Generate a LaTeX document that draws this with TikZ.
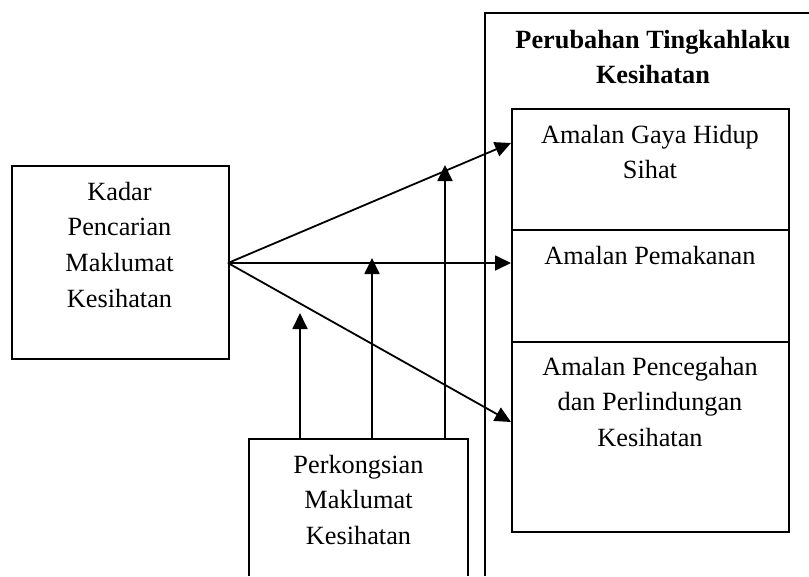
\documentclass[tikz,border=0pt]{standalone}
\usepackage{fontspec}
\setmainfont{Liberation Serif}
\usetikzlibrary{arrows.meta}
\begin{document}
\begin{tikzpicture}[x=1pt,y=-1pt,
  line width=1.8pt,
  boxnode/.style={draw, rectangle, inner sep=0pt, anchor=north west},
  txt/.style={align=center, anchor=base, inner sep=0pt, font=\fontsize{26.3}{35.8}\selectfont},
  arr/.style={-{Triangle[length=16pt,width=15pt]}}]
\useasboundingbox (0,0) rectangle (809,576);
% outer (cropped) box
\draw (485,576) -- (485,13) -- (809,13);
\node[txt, font=\fontsize{26.3}{35}\selectfont\bfseries] (head) at (653,83) {Perubahan Tingkahlaku\\Kesihatan};
% inner boxes
\node[boxnode, minimum width=277pt, minimum height=121pt] (a1) at (511,108) {};
\node[boxnode, minimum width=277pt, minimum height=112pt] (a2) at (511,229) {};
\node[boxnode, minimum width=277pt, minimum height=190pt] (a3) at (511,341) {};
\node[txt] (a1t) at (650,178.8) {Amalan Gaya Hidup\\Sihat};
\node[txt] (a2t) at (650,264) {Amalan Pemakanan};
\node[txt] (a3t) at (650,446.6) {Amalan Pencegahan\\dan Perlindungan\\Kesihatan};
% left box
\node[boxnode, minimum width=217pt, minimum height=193pt] (k) at (11,165) {};
\node[txt] (kt) at (119.5,307.4) {Kadar\\Pencarian\\Maklumat\\Kesihatan};
% bottom box (cropped)
\draw (249,576) -- (249,439) -- (468,439) -- (468,576);
\node[txt] (pt) at (358.5,544.6) {Perkongsian\\Maklumat\\Kesihatan};
% arrow targets
\coordinate (k0) at (228,263);
\coordinate (t1) at (511,143);
\coordinate (t2) at (511,263);
\coordinate (t3) at (511,422);
\draw[arr] (k0) -- (t1);
\draw[arr] (k0) -- (t2);
\draw[arr] (k0) -- (t3);
% vertical arrows from bottom box
\coordinate (v1s) at (300,439); \coordinate (v1e) at (300,313);
\coordinate (v2s) at (372,439); \coordinate (v2e) at (372,258);
\coordinate (v3s) at (445,439); \coordinate (v3e) at (445,165);
\draw[arr] (v1s) -- (v1e);
\draw[arr] (v2s) -- (v2e);
\draw[arr] (v3s) -- (v3e);
\end{tikzpicture}
\end{document}
